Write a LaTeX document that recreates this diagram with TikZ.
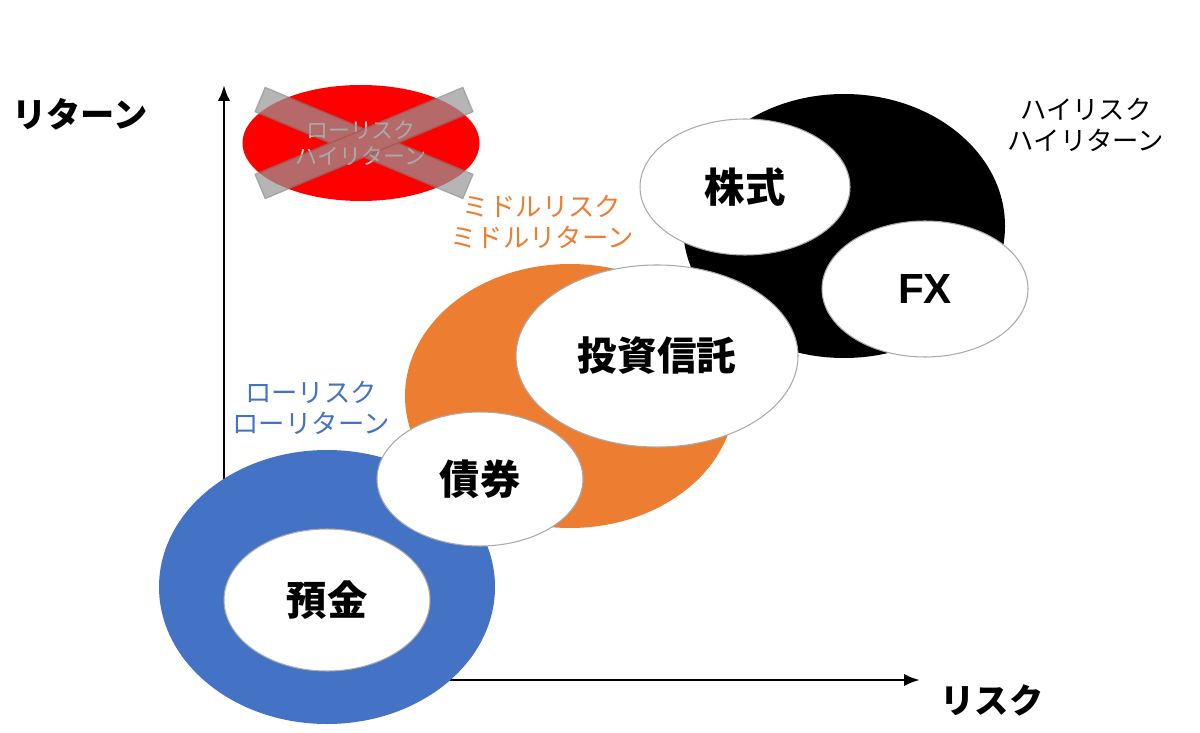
\documentclass[tikz,border=0pt]{standalone}
\usepackage{fontspec}
\setmainfont{Noto Sans CJK JP}
\newfontfamily\latinbold{Liberation Sans}
\usetikzlibrary{shapes.geometric,arrows.meta}
\definecolor{myblue}{RGB}{68,114,196}
\definecolor{myorange}{RGB}{237,125,49}
\definecolor{myred}{RGB}{255,0,0}
\definecolor{bargray}{RGB}{150,150,150}
\definecolor{txtgray}{RGB}{215,215,215}
\tikzset{
  blob/.style={ellipse, inner sep=0pt},
  whiteblob/.style={ellipse, inner sep=0pt, fill=white, draw={rgb,255:red,170;green,170;blue,170}, line width=0.6pt, font=\fontsize{23}{25}\selectfont\bfseries},
  axis/.style={line width=1.6pt, -{Latex[length=9pt,width=7pt]}},
  cat/.style={align=center, font=\fontsize{15}{18}\selectfont},
  axlabel/.style={font=\fontsize{19.5}{22}\selectfont\bfseries},
  crossbar/.style={rectangle, minimum width=4.5cm, minimum height=0.52cm, fill=bargray, draw=gray, line width=0.8pt}
}
\begin{document}
\begin{tikzpicture}[x=0.02cm,y=-0.02cm]
\useasboundingbox (0,0) rectangle (1200,733);
% axes
\coordinate (origin) at (224,680);
\coordinate (ytop) at (224,85);
\coordinate (xend) at (920,680);
\draw[axis] (origin) -- (ytop);
\draw[axis] (origin) -- (xend);
\node[axlabel] (ret) at (80,114) {リターン};
\node[axlabel] (risk) at (992,700) {リスク};
% red crossed
\node[blob, fill=myred, minimum width=237*0.02cm, minimum height=116*0.02cm] (red) at (361,143) {};
\node[align=center, font=\fontsize{12.5}{15}\selectfont, text=txtgray] (redtxt) at (361,143) {ローリスク\\ハイリターン};
\begin{scope}[transparency group, opacity=0.7]
\node[crossbar, rotate=-22.7] (bar1) at (364,143) {};
\node[crossbar, rotate=22.7] (bar2) at (364,143) {};
\end{scope}
% category labels
\node[cat, text=myorange] (midlbl) at (542,222) {ミドルリスク\\ミドルリターン};
\node[cat, text=myblue] (lowlbl) at (311,408) {ローリスク\\ローリターン};
\node[cat, text=black] (highlbl) at (1086,125) {ハイリスク\\ハイリターン};
% big blobs
\node[blob, fill=black, minimum width=322*0.02cm, minimum height=264*0.02cm] (high) at (844,226) {};
\node[blob, fill=myorange, minimum width=330*0.02cm, minimum height=264*0.02cm] (mid) at (570,396) {};
\node[blob, fill=myblue, minimum width=336*0.02cm, minimum height=274*0.02cm] (low) at (327,587) {};
% white items
\node[whiteblob, minimum width=206*0.02cm, minimum height=142*0.02cm] (yokin) at (327,600) {預金};
\node[whiteblob, minimum width=210*0.02cm, minimum height=136*0.02cm] (kabu) at (745,187) {株式};
\node[whiteblob, minimum width=206*0.02cm, minimum height=136*0.02cm, font=\fontsize{24}{26}\selectfont\latinbold\bfseries] (fx) at (925,289) {FX};
\node[whiteblob, minimum width=282*0.02cm, minimum height=182*0.02cm, font=\fontsize{22.5}{24}\selectfont\bfseries] (toshin) at (657,356) {投資信託};
\node[whiteblob, minimum width=206*0.02cm, minimum height=134*0.02cm] (saiken) at (480,479) {債券};
\end{tikzpicture}
\end{document}
